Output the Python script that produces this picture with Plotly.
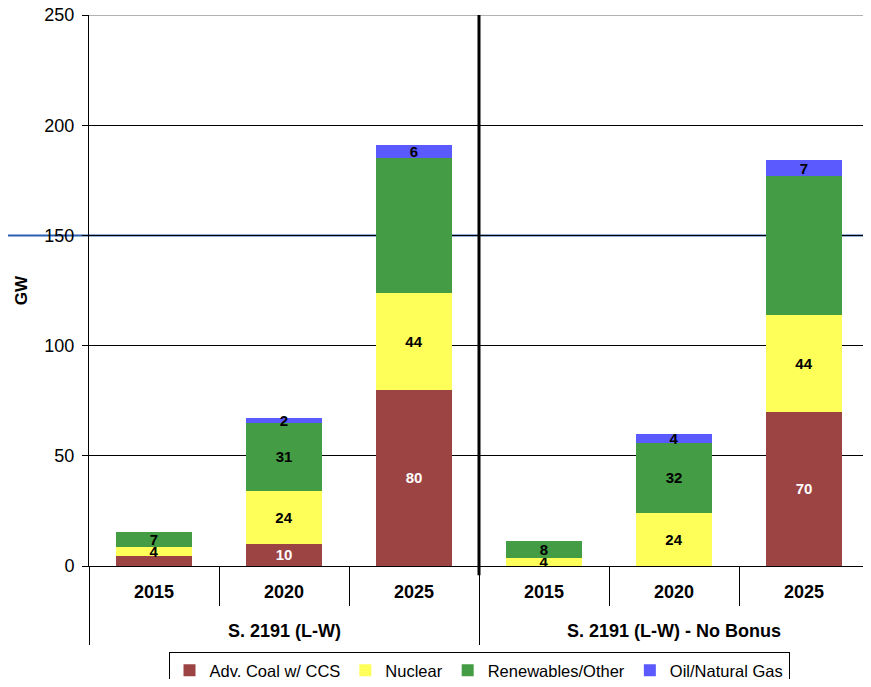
import plotly.graph_objects as go

group_names = ["S. 2191 (L-W)", "S. 2191 (L-W) - No Bonus"]
groups = ["<br><span style='font-size:46px'>&nbsp;</span>"] * 3 + \
         ["<br><span style='font-size:46px'>&nbsp;&nbsp;</span>"] * 3
years = ["2015", "2020", "2025"] * 2

coal = [4.5, 10, 80, 0, 0, 70]
nuclear = [4, 24, 44, 3.8, 24, 44]
renewables = [7, 31, 61, 7.5, 32, 63]
gas = [0, 2, 6, 0, 4, 7]

coal_labels = ["", "10", "80", "", "", "70"]
nuclear_labels = ["4", "24", "44", "4", "24", "44"]
renew_labels = ["7", "31", "", "8", "32", ""]
gas_labels = ["", "2", "6", "", "4", "7"]

y_max = 250

series = [
    ("Adv. Coal w/ CCS", coal, coal_labels, "#9c4444", "white"),
    ("Nuclear", nuclear, nuclear_labels, "#ffff5a", "black"),
    ("Renewables/Other", renewables, renew_labels, "#449c44", "black"),
    ("Oil/Natural Gas", gas, gas_labels, "#5a5aff", "black"),
]

fig = go.Figure()
for name, vals, labels, color, tcolor in series:
    fig.add_trace(go.Bar(
        name=name, x=[groups, years], y=vals,
        text=labels, textposition="inside", insidetextanchor="middle",
        textangle=0,
        textfont=dict(family="Liberation Sans", size=15, color=tcolor, weight="bold"),
        marker=dict(color=color, line=dict(width=0)),
    ))

annotations = [
    dict(text="<b>%s</b>" % g, xref="paper", yref="paper", x=xp, y=0, yshift=-65,
         xanchor="center", yanchor="middle", showarrow=False, font=dict(size=18))
    for g, xp in zip(group_names, [0.25, 0.75])
]

fig.update_layout(
    barmode="stack", bargap=0.41,
    width=863, height=671,
    margin=dict(l=81, r=2, t=7, b=113, autoexpand=False),
    plot_bgcolor="white", paper_bgcolor="white",
    font=dict(family="Liberation Sans", size=16, color="black"),
    uniformtext=dict(mode="show", minsize=15),
    legend=dict(orientation="h", x=0.5, xanchor="center", y=-0.156, yanchor="top",
                bordercolor="black", borderwidth=1, font=dict(size=16.5),
                itemwidth=30, traceorder="normal"),
    xaxis=dict(type="multicategory", showline=True, linecolor="black", linewidth=1,
               ticks="outside", tickson="boundaries", ticklen=39, tickcolor="black",
               showdividers=True, dividercolor="black", dividerwidth=1,
               ticklabelstandoff=9, automargin=False,
               tickfont=dict(size=18, weight="bold")),
    yaxis=dict(range=[0, y_max], dtick=50, showgrid=True, gridcolor="black", gridwidth=1,
               showline=True, linecolor="black", linewidth=1, ticks="outside", ticklen=6,
               tickcolor="black", zeroline=False, automargin=False,
               ticklabelstandoff=4, ticklabeloverflow="allow",
               title=dict(text="<b>GW</b>", font=dict(size=17), standoff=12),
               tickfont=dict(size=18)),
    annotations=annotations,
    shapes=[
        dict(type="line", xref="paper", yref="y", x0=0, x1=1, y0=y_max, y1=y_max,
             line=dict(color="#999999", width=1.5)),
        dict(type="line", xref="paper", yref="y", x0=-0.12, x1=1.01, y0=150, y1=150,
             line=dict(color="#2b5fae", width=2), layer="below"),
        dict(type="line", xref="paper", yref="paper", x0=0.5, x1=0.5, y0=-0.017, y1=1,
             line=dict(color="black", width=3)),
    ],
)

fig.write_html("out.html")
